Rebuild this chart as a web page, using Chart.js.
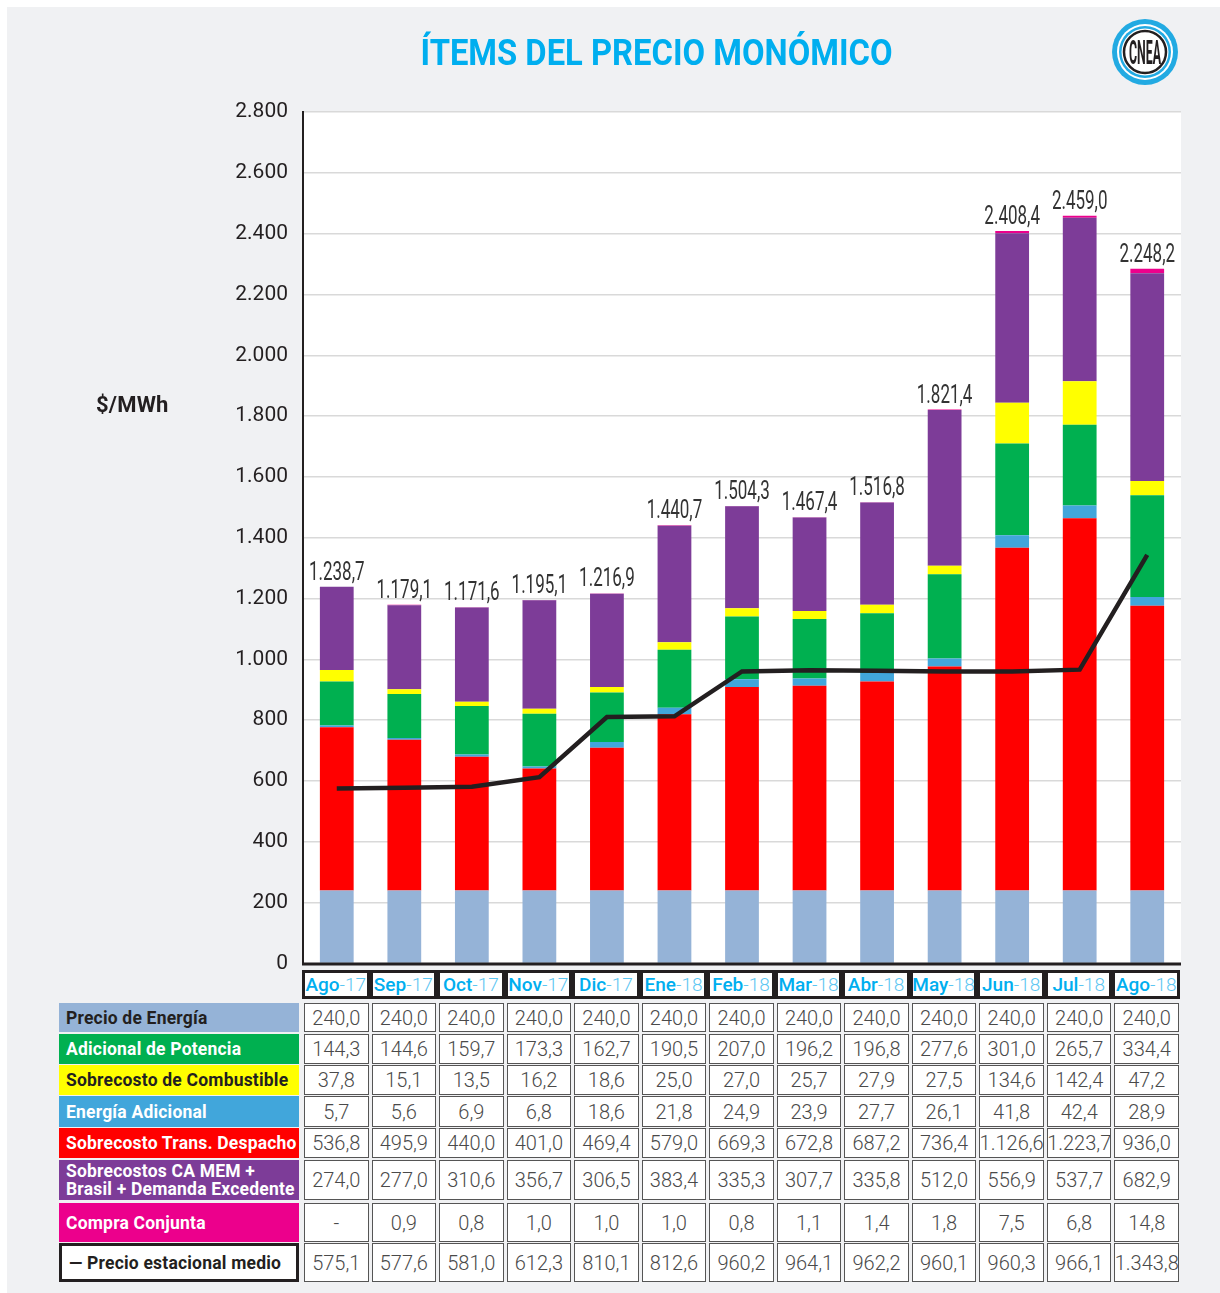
<!DOCTYPE html>
<html>
<head>
<meta charset="utf-8">
<script src="https://cdn.jsdelivr.net/npm/chart.js@4"></script>
<style>
  body { margin: 0; background: #ffffff; width: 1220px; height: 1293px; position: relative; overflow: hidden; font-family: Roboto, "Noto Sans", sans-serif; }
  #panel { position: absolute; left: 7px; top: 7px; right: 0; bottom: 0; background: #f0f1f3; }
  #grafico { position: absolute; left: 0; top: 0; }
  #titulo { position: absolute; top: 31px; left: 157px; width: 1000px; text-align: center; }
  #titulo span { display: inline-block; color: #00aeef; font: bold 37px Roboto, sans-serif; white-space: nowrap; transform-origin: center; }
  #unidad { position: absolute; left: 96px; top: 392px; font: bold 22px Roboto, sans-serif; color: #231f20; letter-spacing: 0.2px; }
  #logo { position: absolute; left: 1110px; top: 17px; }
  .celda { position: absolute; box-sizing: border-box; display: flex; align-items: center; justify-content: center; }
  .valor { background: #fff; border: 1.5px solid #555; font: 300 20px Roboto, sans-serif; color: #4a4a4a; white-space: nowrap; }
  .mes { background: #fff; border: 3px solid #231f20; font: 19px Roboto, sans-serif; white-space: nowrap; }
  .mes b { color: #00aeef; font-weight: 500; }
  .mes i { color: #5cc6f2; font-style: normal; font-weight: 300; }
  .etiqueta { justify-content: flex-start; padding-left: 7px; font: bold 17.5px Roboto, sans-serif; color: #fff; line-height: 18px; letter-spacing: 0.2px; white-space: nowrap; }
</style>
</head>
<body>
<div id="panel"></div>
<canvas id="grafico" width="1220" height="991"></canvas>
<div id="titulo"><span id="tituloTexto">ÍTEMS DEL PRECIO MONÓMICO</span></div>
<div id="unidad">$/MWh</div>
<svg id="logo" width="70" height="70" viewBox="0 0 70 70">
  <circle cx="35" cy="35" r="33" fill="#22aae2"/>
  <circle cx="35" cy="35" r="28" fill="#fff"/>
  <circle cx="35" cy="35" r="26" fill="#22aae2"/>
  <circle cx="35" cy="35" r="23.5" fill="#fff"/>
  <circle cx="35" cy="35" r="21" fill="none" stroke="#231f20" stroke-width="2.5"/>
  <text x="35" y="47" text-anchor="middle" font-family="Roboto, sans-serif" font-weight="bold" font-size="33" fill="#231f20" textLength="32" lengthAdjust="spacingAndGlyphs">CNEA</text>
</svg>
<div id="tabla"></div>

<script>
const meses = ['Ago-17', 'Sep-17', 'Oct-17', 'Nov-17', 'Dic-17', 'Ene-18', 'Feb-18', 'Mar-18', 'Abr-18', 'May-18', 'Jun-18', 'Jul-18', 'Ago-18'];

const precioEnergia = [240.0, 240.0, 240.0, 240.0, 240.0, 240.0, 240.0, 240.0, 240.0, 240.0, 240.0, 240.0, 240.0];
const adicionalPotencia = [144.3, 144.6, 159.7, 173.3, 162.7, 190.5, 207.0, 196.2, 196.8, 277.6, 301.0, 265.7, 334.4];
const sobrecostoCombustible = [37.8, 15.1, 13.5, 16.2, 18.6, 25.0, 27.0, 25.7, 27.9, 27.5, 134.6, 142.4, 47.2];
const energiaAdicional = [5.7, 5.6, 6.9, 6.8, 18.6, 21.8, 24.9, 23.9, 27.7, 26.1, 41.8, 42.4, 28.9];
const sobrecostoTransDespacho = [536.8, 495.9, 440.0, 401.0, 469.4, 579.0, 669.3, 672.8, 687.2, 736.4, 1126.6, 1223.7, 936.0];
const sobrecostosCAMEM = [274.0, 277.0, 310.6, 356.7, 306.5, 383.4, 335.3, 307.7, 335.8, 512.0, 556.9, 537.7, 682.9];
const compraConjunta = [null, 0.9, 0.8, 1.0, 1.0, 1.0, 0.8, 1.1, 1.4, 1.8, 7.5, 6.8, 14.8];
const precioEstacional = [575.1, 577.6, 581.0, 612.3, 810.1, 812.6, 960.2, 964.1, 962.2, 960.1, 960.3, 966.1, 1343.8];

// totales tal como aparecen sobre las barras
const totales = [1238.7, 1179.1, 1171.6, 1195.1, 1216.9, 1440.7, 1504.3, 1467.4, 1516.8, 1821.4, 2408.4, 2459.0, 2248.2];

const ticksY = [0, 200, 400, 600, 800, 1000, 1200, 1400, 1600, 1800, 2000, 2200, 2400, 2600, 2800];

function formatear(v, dec) {
    if (v === null) return '-';
    const partes = v.toFixed(dec).split('.');
    partes[0] = partes[0].replace(/\B(?=(\d{3})+(?!\d))/g, '.');
    return dec ? partes[0] + ',' + partes[1] : partes[0];
}

// orden de apilado de abajo hacia arriba
const series = [
    { label: 'Precio de Energía', data: precioEnergia, color: '#95b3d7' },
    { label: 'Sobrecosto Trans. Despacho', data: sobrecostoTransDespacho, color: '#ff0000' },
    { label: 'Energía Adicional', data: energiaAdicional, color: '#41a6db' },
    { label: 'Adicional de Potencia', data: adicionalPotencia, color: '#00b050' },
    { label: 'Sobrecosto de Combustible', data: sobrecostoCombustible, color: '#ffff00' },
    { label: 'Sobrecostos CA MEM + Brasil + Demanda Excedente', data: sobrecostosCAMEM, color: '#7d3c98' },
    { label: 'Compra Conjunta', data: compraConjunta, color: '#ec008c' }
];

const fondoArea = {
    id: 'fondoArea',
    beforeDraw(chart) {
        const { ctx, chartArea } = chart;
        ctx.save();
        ctx.fillStyle = '#ffffff';
        ctx.fillRect(chartArea.left, chartArea.top, chartArea.right - chartArea.left, chartArea.bottom - chartArea.top);
        ctx.restore();
    },
    afterDatasetsDraw(chart) {
        const { ctx, chartArea } = chart;
        ctx.save();
        ctx.strokeStyle = '#231f20';
        ctx.lineWidth = 3;
        ctx.beginPath();
        ctx.moveTo(chartArea.left - 1, chartArea.bottom + 0.5);
        ctx.lineTo(chartArea.right, chartArea.bottom + 0.5);
        ctx.stroke();
        ctx.restore();
    }
};

const etiquetasTotales = {
    id: 'etiquetasTotales',
    afterDraw(chart) {
        const { ctx } = chart;
        const x = chart.scales.x;
        const y = chart.scales.y;
        ctx.save();
        ctx.font = '25px Roboto, sans-serif';
        ctx.fillStyle = '#333333';
        ctx.textAlign = 'center';
        ctx.textBaseline = 'alphabetic';
        meses.forEach((m, i) => {
            let suma = 0;
            series.forEach(s => { suma += s.data[i] || 0; });
            const px = x.getPixelForValue(i);
            const py = y.getPixelForValue(suma) - 7;
            ctx.save();
            ctx.translate(px, py);
            ctx.scale(0.68, 1);
            ctx.fillText(formatear(totales[i], 1), 0, 0);
            ctx.restore();
        });
        ctx.restore();
    }
};

const datasets = series.map(s => ({
    type: 'bar',
    label: s.label,
    data: s.data,
    backgroundColor: s.color,
    borderWidth: 0,
    stack: 'barras',
    order: 2,
    barPercentage: 0.5,
    categoryPercentage: 1
}));

datasets.push({
    type: 'line',
    label: 'Precio estacional medio',
    data: precioEstacional,
    borderColor: '#231f20',
    borderWidth: 4.5,
    pointRadius: 0,
    tension: 0,
    stack: 'linea',
    order: 1
});

const grafico = new Chart(document.getElementById('grafico').getContext('2d'), {
    data: { labels: meses, datasets: datasets },
    options: {
        responsive: false,
        animation: false,
        layout: { padding: { left: 223, right: 39, top: 112, bottom: 12 } },
        plugins: { legend: { display: false }, tooltip: { enabled: false } },
        scales: {
            x: { display: false, stacked: true },
            y: {
                stacked: true,
                min: 0,
                max: 2800,
                afterFit(scale) { scale.width = 80; },
                afterBuildTicks(scale) { scale.ticks = ticksY.map(v => ({ value: v })); },
                ticks: {
                    padding: 15,
                    color: '#231f20',
                    font: { family: 'Roboto', size: 21 },
                    callback: v => formatear(v, 0)
                },
                grid: { color: '#d9d9d9', lineWidth: 1.5, drawTicks: false },
                border: { color: '#231f20', width: 2 }
            }
        }
    },
    plugins: [fondoArea, etiquetasTotales]
});

// ajustar el ancho del título
const tit = document.getElementById('tituloTexto');
tit.style.transform = 'scaleX(' + (472 / tit.getBoundingClientRect().width) + ')';

// tabla inferior
const tabla = document.getElementById('tabla');
const xs = grafico.scales.x;
const anchoCol = (xs.right - xs.left) / meses.length;

function celda(clase, x, y, w, h, html, estilo) {
    const d = document.createElement('div');
    d.className = 'celda ' + clase;
    d.style.left = x + 'px';
    d.style.top = y + 'px';
    d.style.width = w + 'px';
    d.style.height = h + 'px';
    if (estilo) d.style.cssText += estilo;
    d.innerHTML = html;
    tabla.appendChild(d);
}

meses.forEach((m, i) => {
    const p = m.split('-');
    celda('mes', xs.left + i * anchoCol - 1, 970, anchoCol, 29, '<b>' + p[0] + '</b><i>-' + p[1] + '</i>');
});

const filas = [
    { texto: 'Precio de Energía', data: precioEnergia, fondo: '#95b3d7', color: '#231f20', top: 1003, alto: 29 },
    { texto: 'Adicional de Potencia', data: adicionalPotencia, fondo: '#00b050', color: '#fff', top: 1034, alto: 30 },
    { texto: 'Sobrecosto de Combustible', data: sobrecostoCombustible, fondo: '#ffff00', color: '#231f20', top: 1065, alto: 30 },
    { texto: 'Energía Adicional', data: energiaAdicional, fondo: '#41a6db', color: '#fff', top: 1096, alto: 31 },
    { texto: 'Sobrecosto Trans. Despacho', data: sobrecostoTransDespacho, fondo: '#ff0000', color: '#fff', top: 1128, alto: 30 },
    { texto: 'Sobrecostos CA MEM +<br>Brasil + Demanda Excedente', data: sobrecostosCAMEM, fondo: '#7d3c98', color: '#fff', top: 1160, alto: 40 },
    { texto: 'Compra Conjunta', data: compraConjunta, fondo: '#ec008c', color: '#fff', top: 1203, alto: 39 },
    { texto: '— Precio estacional medio', data: precioEstacional, fondo: '#fff', color: '#231f20', top: 1243, alto: 39 }
];

filas.forEach((f, k) => {
    let estilo = 'background:' + f.fondo + ';color:' + f.color + ';';
    if (k === filas.length - 1) estilo += 'border:3px solid #231f20;';
    celda('etiqueta', 59, f.top, 240, f.alto, f.texto, estilo);
    f.data.forEach((v, i) => {
        celda('valor', xs.left + i * anchoCol + 1, f.top, anchoCol - 3, f.alto, formatear(v, 1));
    });
});
</script>
</body>
</html>
